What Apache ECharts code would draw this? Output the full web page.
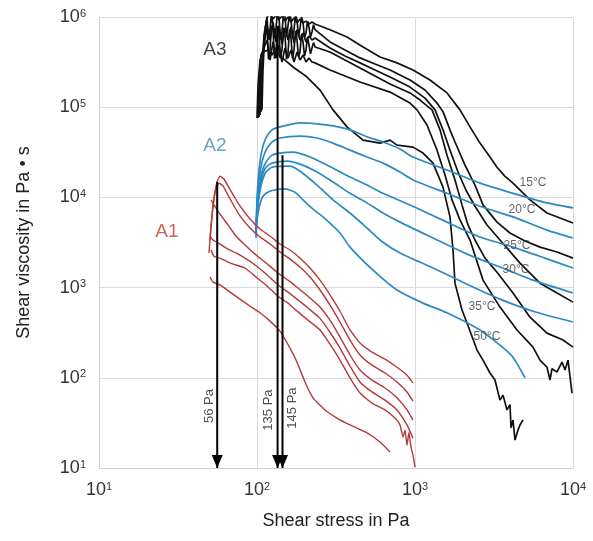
<!DOCTYPE html>
<html>
<head>
<meta charset="utf-8">
<script src="https://cdn.jsdelivr.net/npm/echarts@6/dist/echarts.min.js"></script>
<style>
  html, body { margin: 0; padding: 0; background: #fff; }
  #chart { width: 593px; height: 541px; }
</style>
</head>
<body>
<div id="chart"></div>
<script>
// ---- Flow curves: [shear stress (Pa), shear viscosity (Pa·s)] ----

// A1 (red)
const a1Curve1 = [[49.7,2420],[51.2,4950],[53.4,9390],[55.8,14800],[58.3,17200],[61.8,16000],[65.5,13400],[71.5,10300],[78.0,8050],[90.3,5770],[104.5,4470],[120.9,3730],[139.8,3040],[161.8,2610],[187.2,2120],[216.5,1650],[250.5,1210],[289.7,830],[335.3,547],[387.8,339],[448.6,243],[534,193],[646,161],[769,131],[890,107],[971,88]];
const a1Curve2 = [[50.4,3370],[52.7,8260],[55.0,12700],[57.5,14400],[60.9,13400],[65.5,10600],[71.5,8050],[78.0,6230],[90.3,4580],[104.5,3640],[120.9,3040],[139.8,2480],[161.8,2070],[187.2,1690],[216.5,1310],[250.5,940],[289.7,640],[335.3,415],[387.8,262],[448.6,179],[534,138],[646,113],[769,90],[890,69.7],[971,55]];
const a1Curve3 = [[51.2,9390],[53.4,8260],[58.3,6520],[65.5,4950],[73.6,3730],[84.0,2960],[97.1,2350],[112.3,1920],[135.8,1450],[157.1,1210],[179.2,1010],[210.3,803],[250.5,608],[289.7,436],[335.3,283],[387.8,179],[448.6,122],[534,94.4],[646,77],[769,60],[890,44],[971,34]];
const a1Curve4 = [[50.4,3730],[52.7,3370],[58.3,3040],[65.5,2670],[73.6,2420],[84.0,2120],[97.1,1780],[112.3,1450],[135.8,1070],[157.1,890],[179.2,745],[210.3,594],[250.5,456],[289.7,320],[335.3,213],[387.8,135],[448.6,90],[534,69.7],[646,56.6],[769,44],[890,30],[971,21.4]];
const a1Curve5 = [[51.2,2610],[53.4,2230],[58.3,2120],[65.5,1920],[73.6,1780],[84.0,1650],[97.1,1340],[112.3,1090],[135.8,803],[157.1,673],[179.2,549],[210.3,436],[250.5,339],[289.7,236],[335.3,157],[387.8,99.7],[448.6,67.7],[534,52.4],[646,44],[747,35.8],[804,30],[840,22],[865,26.3],[890,17.9],[916,25],[943,17],[971,13.9],[1000,10.2]];
const a1Curve6 = [[50.4,1310],[52.7,1150],[58.3,1070],[67.5,890],[78.0,745],[90.3,622],[104.5,526],[120.9,425],[139.8,329],[161.8,213],[179.2,149],[201.3,90],[226.2,59.8],[269.4,44],[320.8,35.8],[387.8,30],[497,24.5],[600.6,19.4],[695,15.0]];

// A2 (blue), 15 / 20 / 25 / 30 / 35 / 50 °C
const a2Curve15 = [[98.6,3550],[100,9390],[103.0,20100],[107.5,33400],[114.0,45600],[124.4,56100],[139.8,60500],[187.2,66900],[239.8,65300],[302.7,62000],[387.8,56100],[497,47000],[627,41100],[804,34400],[971,28000],[1594,20100],[2578,14400],[4172,11100],[6846,8700],[10000,7650]];
const a2Curve20 = [[98.6,3820],[100,8260],[103.0,15600],[107.5,24600],[114.0,33400],[124.4,41100],[139.8,45600],[187.2,47800],[239.8,45600],[302.7,40000],[387.8,33400],[497,28000],[627,24000],[804,19100],[971,15600],[1594,11100],[2578,7980],[4172,6080],[6846,4340],[10000,3550]];
const a2Curve25 = [[98.6,4030],[100,7260],[103.0,12000],[107.5,19100],[114.0,24600],[124.4,29400],[139.8,31000],[169,31800],[216.5,28000],[302.7,21100],[387.8,16800],[497,13700],[627,11100],[971,7980],[1594,5320],[2578,3640],[4172,2810],[6650,2120],[10000,1650]];
const a2Curve30 = [[98.6,4120],[100,6900],[103.0,11100],[107.5,16800],[114.0,21600],[124.4,24000],[154.9,25300],[187.2,23400],[239.8,19100],[302.7,14800],[387.8,11100],[497,8700],[627,6710],[804,5320],[1300,3550],[2134,2350],[3451,1690],[5582,1210],[10000,870]];
const a2Curve35 = [[98.6,4340],[100,6380],[103.0,10100],[107.5,14800],[114.0,19100],[124.4,21600],[161.8,22200],[187.2,19500],[239.8,13700],[302.7,9390],[387.8,6710],[497,4580],[627,3180],[804,2420],[1300,1650],[2134,1090],[3451,745],[5582,547],[10000,415]];
const a2Curve50 = [[98.6,4580],[100,5640],[103.0,7650],[107.5,9800],[114.0,11100],[126.3,12000],[150.4,12400],[174,11400],[195.5,9390],[226.2,7430],[261.7,6080],[335.3,4030],[387.8,2810],[542.3,1560],[769,940],[1124,673],[1594,526],[2578,339],[3451,230],[4172,169],[4968,100]];

// A3 (black), 15 / 20 / 25 / 30 / 35 / 50 °C — noisy plateau near 10^6 at low stress
const a3Curve15 = [[107.5,93400],[109.1,259000],[112.3,723000],[115.7,1000000],[120.9,1080000],[126.3,950000],[131.9,1050000],[137.8,930000],[143.9,1030000],[150.4,900000],[157.1,1000000],[164.1,880000],[171.5,975000],[179.2,860000],[187.2,950000],[195.5,860000],[204.3,900000],[213.4,837000],[222.9,880000],[232.9,837000],[289.7,723000],[371.2,600000],[468.9,465000],[600.6,360000],[769,310000],[971,259000],[1244,200000],[1594,144000],[1926,93400],[2229,60500],[2578,40000],[2983,28000],[3304,21600],[3712,17100],[4172,14400],[5343,9390],[6846,6710],[8275,5900],[10000,5200]];
const a3Curve20 = [[106.0,89200],[107.5,228000],[110.7,630000],[115.7,975000],[118.2,560000],[120.9,723000],[123.5,1100000],[126.3,1050000],[129.1,580000],[131.9,756000],[134.8,1100000],[137.8,1000000],[140.8,560000],[143.9,683000],[147.2,1100000],[150.4,1030000],[153.7,600000],[157.1,796000],[160.6,1080000],[164.1,950000],[167.8,580000],[171.5,723000],[175.3,1050000],[179.2,930000],[183.1,600000],[187.2,756000],[191.2,1000000],[195.5,880000],[199.8,590000],[204.3,663000],[208.7,900000],[213.4,775000],[218.0,600000],[222.9,683000],[227.8,820000],[232.9,723000],[289.7,529000],[360.6,431000],[448.6,352000],[558.3,301000],[695,259000],[929.8,200000],[1157,155000],[1378,111000],[1504,89200],[1665,56100],[1791,41100],[2072,22800],[2397,13700],[2694,8260],[3304,5320],[3992,4030],[4968,3290],[6182,2810],[7922,2480],[10000,2120]];
const a3Curve25 = [[104.5,81700],[106.0,200000],[110.7,489000],[115.7,816000],[120.9,556000],[126.3,880000],[131.9,529000],[137.8,796000],[143.9,501000],[150.4,756000],[157.1,556000],[164.1,775000],[171.5,515000],[179.2,723000],[187.2,556000],[195.5,663000],[204.3,529000],[213.4,616000],[222.9,556000],[232.9,585000],[289.7,453000],[360.6,369000],[448.6,310000],[558.3,259000],[695,216000],[929.8,167000],[1157,126000],[1339,93400],[1504,56100],[1665,33400],[1872,19100],[2103,12000],[2397,7980],[2855,4950],[3451,3370],[4619,1870],[6182,1120],[7922,870],[10000,690]];
const a3Curve30 = [[103.0,77800],[104.5,176000],[110.7,556000],[115.7,756000],[118.2,340000],[120.9,431000],[123.5,800000],[126.3,723000],[129.1,345000],[131.9,409000],[134.8,780000],[137.8,663000],[140.8,350000],[143.9,431000],[147.2,760000],[150.4,616000],[153.7,340000],[157.1,399000],[160.6,720000],[164.1,585000],[167.8,350000],[171.5,431000],[175.3,700000],[179.2,556000],[183.1,360000],[187.2,409000],[191.2,650000],[195.5,529000],[199.8,370000],[204.3,431000],[208.7,600000],[213.4,489000],[218.0,390000],[222.9,453000],[227.8,520000],[232.9,465000],[289.7,409000],[360.6,333000],[448.6,272000],[558.3,222000],[695,181000],[929.8,144000],[1076,120000],[1281,93400],[1440,56100],[1594,29400],[1791,15600],[1984,8260],[2164,4950],[2397,3370],[2773,2120],[3304,1480],[4172,870],[5343,470],[6846,313],[8644,262],[10000,219]];
const a3Curve35 = [[101.5,76000],[103.0,155000],[106.0,379000],[110.7,453000],[115.7,556000],[120.9,333000],[126.3,529000],[131.9,352000],[137.8,489000],[143.9,317000],[150.4,453000],[157.1,352000],[164.1,431000],[171.5,317000],[179.2,409000],[187.2,333000],[195.5,379000],[204.3,317000],[213.4,352000],[222.9,317000],[232.9,310000],[289.7,259000],[360.6,222000],[448.6,190000],[695,147000],[929.8,111000],[1030,93400],[1191,63500],[1378,33400],[1549,17700],[1715,9390],[1926,5640],[2229,3370],[2694,1210],[3451,608],[4422,339],[5582,219],[6182,157],[6846,131],[7152,94.4],[7362,126],[7922,116],[8518,149],[8901,122],[9299,157],[9856,67.7]];
const a3Curve50 = [[100,76000],[101.5,176000],[104.5,333000],[109.1,409000],[117.4,431000],[124.4,379000],[131.9,453000],[139.8,360000],[150.4,333000],[169,279000],[187.2,246000],[207.3,216000],[250.5,155000],[302.7,93400],[371.2,60500],[468.9,43200],[600.6,40000],[695,43200],[769,38000],[971,36100],[1124,31000],[1300,24000],[1504,13000],[1665,6080],[1740,2610],[1791,1120],[1984,564],[2134,405],[2469,203],[2694,157],[2983,113],[3208,94.4],[3451,56.6],[3606,64.3],[3822,44],[3992,50.5],[4052,27.9],[4172,34],[4294,20.4],[4486,26.3],[4619,30],[4825,34]];

// Yield-stress markers
const arrowStress = [56, 135, 145];
const arrowTopViscosity = [14800, 800000, 29400];
const arrowLabels = ['56 Pa', '135 Pa', '145 Pa'];

// Temperature tags and group names
const tempLabels = ['15°C', '20°C', '25°C', '30°C', '35°C', '50°C'];
const groupLabels = ['A1', 'A2', 'A3'];

// Axis range in decades
const xTickExponents = [1, 2, 3, 4];
const yTickExponents = [1, 2, 3, 4, 5, 6];

// ---- Build chart ----
const FONT = '"Liberation Sans", Arial, Helvetica, sans-serif';
const RED = '#b5393b', BLUE = '#2b8ac3', BLACK = '#111111';

function curve(data, color, width, smooth) {
  return {
    type: 'line', data: data, symbol: 'none', showSymbol: false,
    smooth: smooth, animation: false, silent: true, clip: true,
    lineStyle: { color: color, width: width }
  };
}

const series = [];
[a3Curve15, a3Curve20, a3Curve25, a3Curve30, a3Curve35, a3Curve50]
  .forEach(d => series.push(curve(d, BLACK, 1.7, false)));
[a2Curve15, a2Curve20, a2Curve25, a2Curve30, a2Curve35, a2Curve50]
  .forEach(d => series.push(curve(d, BLUE, 1.7, 0.2)));
[a1Curve1, a1Curve2, a1Curve3, a1Curve4, a1Curve5, a1Curve6]
  .forEach(d => series.push(curve(d, RED, 1.4, 0.15)));

// arrows: vertical line ending in a downward triangle whose tip sits on the axis minimum
arrowStress.forEach((s, i) => {
  series.push({
    type: 'line', animation: false, silent: true, z: 10,
    symbol: 'none', showSymbol: true,
    lineStyle: { color: '#000', width: 2 },
    itemStyle: { color: '#000' },
    data: [
      [s, arrowTopViscosity[i]],
      { value: [s, 10], symbol: 'triangle', symbolSize: [11, 13],
        symbolRotate: 180, symbolOffset: [0, '-50%'] }
    ]
  });
});

// text annotations placed in data coordinates
// (offset of rotated labels is given in the rotated frame: second entry = sideways shift)
const arrowLabelAt = [[56, 48.6, -8], [135, 43.9, -9], [145, 46.2, 10]];
const tempLabelAt = [[5582, 14400], [4755, 7260], [4422, 2890], [4357, 1560], [2655, 622], [2855, 283]];
const groupLabelAt = [[26.9, 4120, '#c0392b'], [54.2, 37000, '#3a8cba'], [54.2, 431000, '#111']];

const textItems = [];
arrowLabels.forEach((t, i) => {
  const p = arrowLabelAt[i];
  textItems.push({ value: [p[0], p[1]], label: {
    show: true, formatter: t, position: 'inside', offset: [0, p[2]], rotate: 90,
    fontSize: 13, color: '#222', fontFamily: FONT } });
});
tempLabels.forEach((t, i) => {
  const p = tempLabelAt[i];
  textItems.push({ value: [p[0], p[1]], label: {
    show: true, formatter: t, position: 'inside',
    fontSize: 12, color: '#3c3c3c', fontFamily: FONT } });
});
groupLabels.forEach((t, i) => {
  const p = groupLabelAt[i];
  textItems.push({ value: [p[0], p[1]], label: {
    show: true, formatter: t, position: 'inside',
    fontSize: 19, color: p[2], fontFamily: FONT } });
});
series.push({
  type: 'scatter', symbolSize: 0, silent: true, animation: false, z: 20,
  data: textItems
});

function powLabel(v) {
  const e = Math.round(Math.log10(v));
  return '{b|10}{s|' + e + '}';
}
const tickRich = {
  b: { fontSize: 18, color: '#333', fontFamily: FONT },
  s: { fontSize: 11, color: '#333', fontFamily: FONT, verticalAlign: 'top' }
};

const option = {
  backgroundColor: '#ffffff',
  animation: false,
  grid: { left: 99, right: 20, top: 17, bottom: 73, containLabel: false },
  xAxis: {
    type: 'log', logBase: 10,
    min: Math.pow(10, xTickExponents[0]),
    max: Math.pow(10, xTickExponents[xTickExponents.length - 1]),
    interval: 1,
    axisLine: { show: true, lineStyle: { color: '#d2d2d2' } },
    axisTick: { show: false },
    splitLine: { show: true, lineStyle: { color: '#dadada', width: 1 } },
    axisLabel: { formatter: powLabel, rich: tickRich, margin: 13 },
    name: 'Shear stress in Pa', nameLocation: 'middle', nameGap: 44,
    nameTextStyle: { fontSize: 18, color: '#222', fontFamily: FONT }
  },
  yAxis: {
    type: 'log', logBase: 10,
    min: Math.pow(10, yTickExponents[0]),
    max: Math.pow(10, yTickExponents[yTickExponents.length - 1]),
    interval: 1,
    axisLine: { show: true, lineStyle: { color: '#d2d2d2' } },
    axisTick: { show: false },
    splitLine: { show: true, lineStyle: { color: '#dadada', width: 1 } },
    axisLabel: { formatter: powLabel, rich: tickRich, margin: 13 },
    name: 'Shear viscosity in Pa \u2022 s', nameLocation: 'middle', nameGap: 66,
    nameTextStyle: { fontSize: 18, color: '#222', fontFamily: FONT }
  },
  series: series
};

const chart = echarts.init(document.getElementById('chart'), null, { renderer: 'canvas' });
chart.setOption(option);
</script>
</body>
</html>
